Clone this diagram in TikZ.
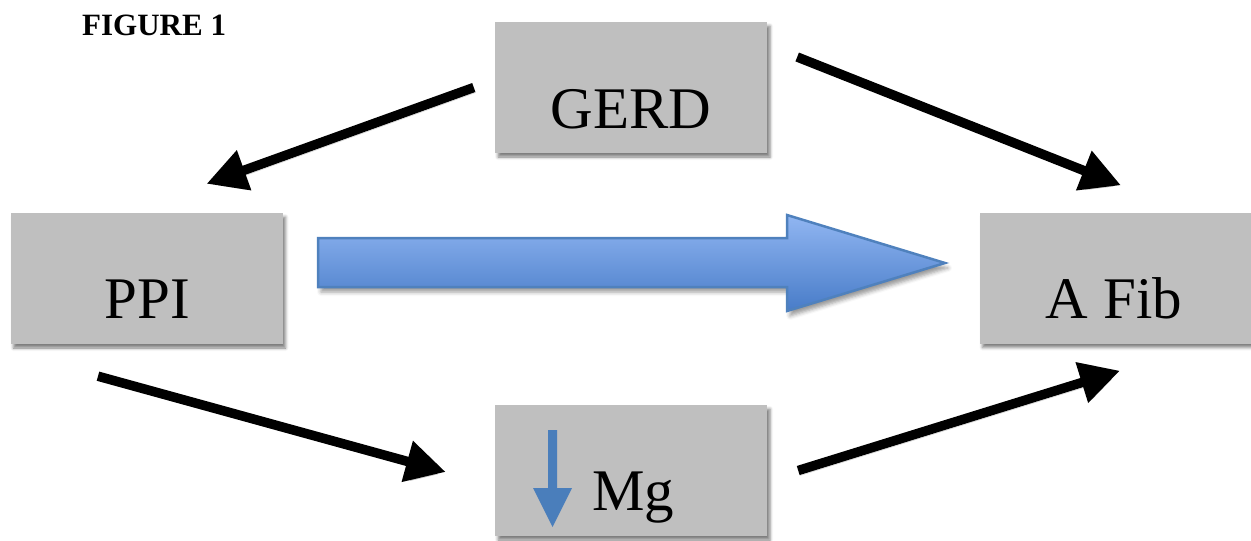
\documentclass[tikz,border=0pt]{standalone}
\usepackage{fontspec}
\setmainfont{Liberation Serif}
\usetikzlibrary{arrows.meta,shadows.blur,calc}
\definecolor{boxgray}{RGB}{191,191,191}
\definecolor{blueedge}{RGB}{79,129,189}
\definecolor{bluetop}{RGB}{145,182,242}
\definecolor{bluebot}{RGB}{72,124,200}
\definecolor{mgblue}{RGB}{74,126,187}
\begin{document}
\begin{tikzpicture}[x=1pt,y=-1pt,
  box/.style={fill=boxgray, draw=none, minimum width=272pt, minimum height=131pt, inner sep=0pt,
    blur shadow={shadow xshift=3pt, shadow yshift=-4pt, shadow blur radius=3pt, shadow opacity=50}},
  boxtext/.style={font=\fontsize{59}{59}\selectfont, anchor=base, inner sep=0pt},
  link/.style={line width=9.5pt, -{Triangle[length=40pt,width=40pt]}, black,
    preaction={draw=black!20, transform canvas={shift={(2pt,-5pt)}}}},
  ]
\useasboundingbox (0,0) rectangle (1251,541);
% title
\node[anchor=base west, inner sep=0pt, font=\fontsize{31}{31}\selectfont\bfseries] (title) at (82,35) {FIGURE 1};
% boxes
\node[box] (gerd) at (631,87.5) {};
\node[box] (ppi) at (146.5,278.5) {};
\node[box] (afib) at (1115.5,278) {};
\node[box] (mg) at (631,470.5) {};
% texts
\node[boxtext] (gerdt) at ([yshift=25pt]gerd.south) {GERD};
\node[boxtext] (ppit) at ([xshift=1pt,yshift=26pt]ppi.south) {PPI};
\node[boxtext] (afibt) at ([xshift=-1.5pt,yshift=25pt]afib.south) {A Fib};
\node[boxtext] (mgt) at ([xshift=2pt,yshift=26pt]mg.south) {Mg};
% small down arrow
\fill[mgblue] (548,430) -- (557,430) -- (557,488) -- (572,488) -- (552.5,527) -- (533,488) -- (548,488) -- cycle;
% big blue arrow
\draw[blueedge, line width=2.5pt, line join=miter, top color=bluetop, bottom color=bluebot,
  blur shadow={shadow xshift=3pt, shadow yshift=-5pt, shadow blur radius=4pt, shadow opacity=40}]
  (318,238) -- (787,238) -- (787,215) -- (945,263) -- (787,311) -- (787,287) -- (318,287) -- cycle;
% black connectors
\draw[link] ([xshift=-21pt]gerd.west) -- ([xshift=60pt,yshift=29pt]ppi.north);
\draw[link] ([xshift=30pt,yshift=30.5pt]gerd.east) -- ([xshift=5.5pt,yshift=27pt]afib.north);
\draw[link] ([xshift=-48.5pt,yshift=-32pt]ppi.south) -- ([xshift=-49pt,yshift=-1.5pt]mg.west);
\draw[link] ([xshift=31pt]mg.east) -- ([xshift=4.5pt,yshift=-27pt]afib.south);
\end{tikzpicture}
\end{document}
